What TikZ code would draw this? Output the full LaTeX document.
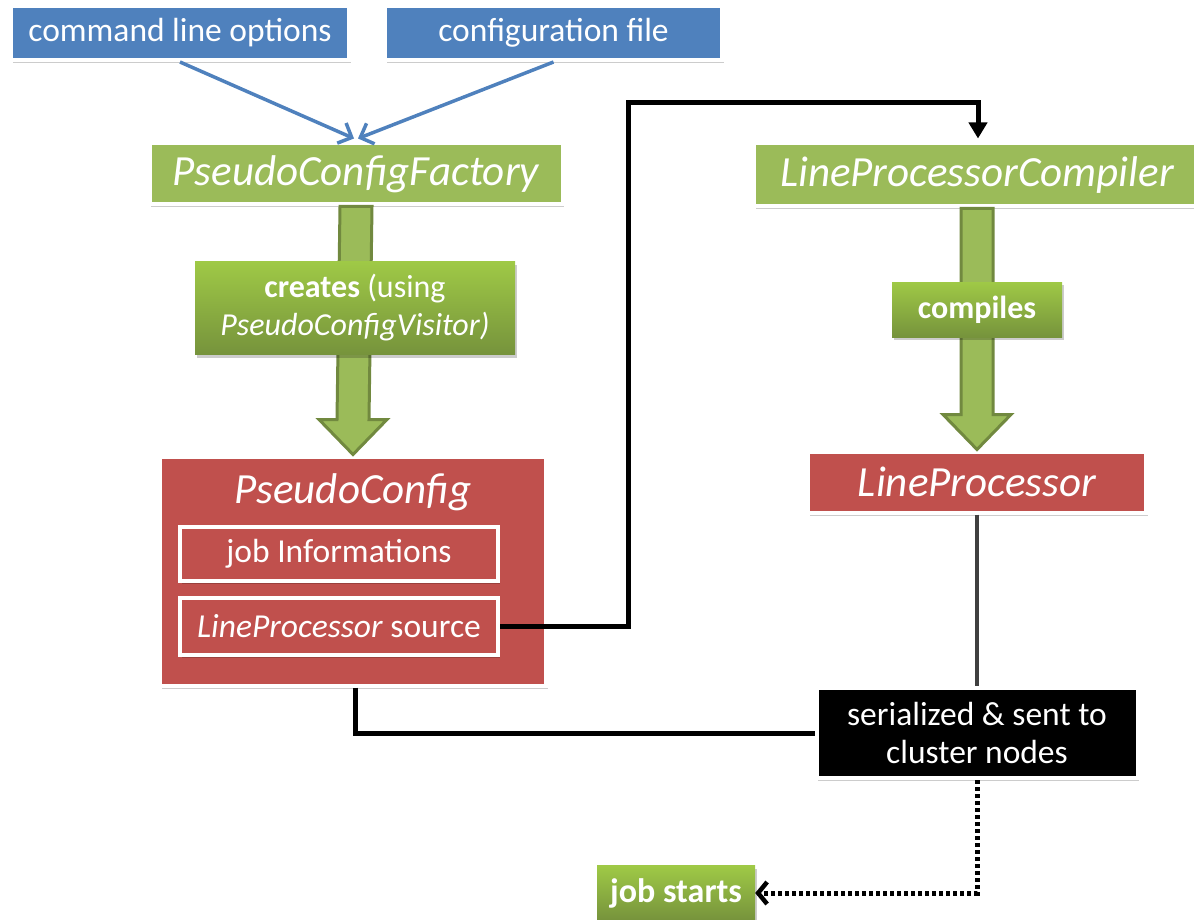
\documentclass[tikz,border=0pt]{standalone}
\usepackage{fontspec}
\setmainfont{Carlito}
\usetikzlibrary{arrows.meta,shadows,calc}
\definecolor{cblue}{HTML}{4F81BD}
\definecolor{cgreen}{HTML}{9BBB59}
\definecolor{cgreendark}{HTML}{71893F}
\definecolor{cred}{HTML}{C0504D}
\definecolor{gtop}{HTML}{9FC946}
\definecolor{gbot}{HTML}{76933C}
\definecolor{lgray}{HTML}{404040}
\begin{document}
\begin{tikzpicture}[x=1pt,y=-1pt,
  box/.style={rectangle,draw=white,line width=4pt,text=white,inner sep=0pt,align=center,
    drop shadow={shadow xshift=1.5pt,shadow yshift=-3pt,opacity=0.2,fill=black}},
  grad/.style={rectangle,top color=gtop,bottom color=gbot,draw=none,text=white,inner sep=0pt,align=center,
    drop shadow={shadow xshift=1.5pt,shadow yshift=-3pt,opacity=0.2,fill=black}},
  body/.style={font=\fontsize{33.5}{38}\selectfont},
  title/.style={font=\fontsize{43}{50}\selectfont\itshape},
  bigarrow/.style={fill=cgreen,draw=cgreendark,line width=3pt,line join=miter},
  bluearrow/.style={draw=cblue,line width=3.5pt,-{Straight Barb[length=11pt,width=22pt,line width=3.5pt]}},
  blackline/.style={draw=black,line width=5pt},
]
\useasboundingbox (0,0) rectangle (1194,920);

% top blue boxes
\node[box,fill=cblue,body,minimum width=338,minimum height=54] (clo) at (180,33) {command line options};
\node[box,fill=cblue,body,minimum width=337,minimum height=54] (cfg) at (553.5,33) {configuration file};

% factory
\node[box,fill=cgreen,title,minimum width=413,minimum height=61] (pcf) at (356,174) {PseudoConfigFactory};

% PseudoConfig
\node[box,fill=cred,minimum width=386,minimum height=229] (pc) at (353,571) {};
\node[text=white,title,inner sep=0pt] (pct) at (353,492) {PseudoConfig};
\node[box,fill=cred,body,minimum width=318,minimum height=54] (ji) at (339,554) {job Informations};
\node[box,fill=cred,body,minimum width=318,minimum height=57] (lps) at (339,626) {\textit{LineProcessor} source};

% compiler
\node[box,fill=cgreen,title,minimum width=446,minimum height=63] (lpc) at (977,175) {LineProcessorCompiler};
\node[box,fill=cred,title,minimum width=338,minimum height=61] (lp) at (977,482) {LineProcessor};

% serialized
\node[box,fill=black,body,minimum width=321,minimum height=90] (ser) at (977,733) {serialized \& sent to\\cluster nodes};

% job starts
\node[grad,font=\fontsize{34}{40}\selectfont\bfseries,minimum width=158,minimum height=55] (js) at (676,893) {job starts};

% big arrows
\draw[bigarrow] ($(pcf.south)+(-16,0)$) -- ($(pc.north)+(-16,-35)$) -- ++(-18,0) -- (pc.north)
  -- ($(pc.north)+(34,-35)$) -- ++(-18,0) -- ($(pcf.south)+(16,0)$) -- cycle;
\draw[bigarrow] ($(lpc.south)+(-16,0)$) -- ($(lp.north)+(-16,-35)$) -- ++(-18,0) -- (lp.north)
  -- ($(lp.north)+(34,-35)$) -- ++(-18,0) -- ($(lpc.south)+(16,0)$) -- cycle;

% labels on big arrows
\node[grad,minimum width=320,minimum height=93,font=\fontsize{32}{38}\selectfont] (cr) at (355,308)
  {\textbf{creates} (using\\\textit{PseudoConfigVisitor)}};
\node[grad,minimum width=170,minimum height=55,font=\fontsize{32}{38}\selectfont\bfseries] (cp) at (977,309.5) {compiles};

% blue arrows
\draw[bluearrow] (clo.south) -- ($(pcf.north)+(-2,-3)$);
\draw[bluearrow] (cfg.south) -- ($(pcf.north)+(2,-3)$);

% black connectors
\coordinate (c1) at (628,103);
\draw[blackline,-{Triangle[length=16pt,width=18pt]}] (lps.east) -| (c1) -| ($(lpc.north)+(1,-3)$);
\draw[blackline] ($(pc.south)+(2,0)$) |- (ser.west);
\draw[draw=lgray,line width=4.5pt] (lp.south) -- (ser.north);
\draw[draw=black,line width=5pt,dash pattern=on 4pt off 3pt,-{Straight Barb[length=9pt,width=22pt,line width=4.5pt]}] (ser.south) |- (js.east);
\end{tikzpicture}
\end{document}
